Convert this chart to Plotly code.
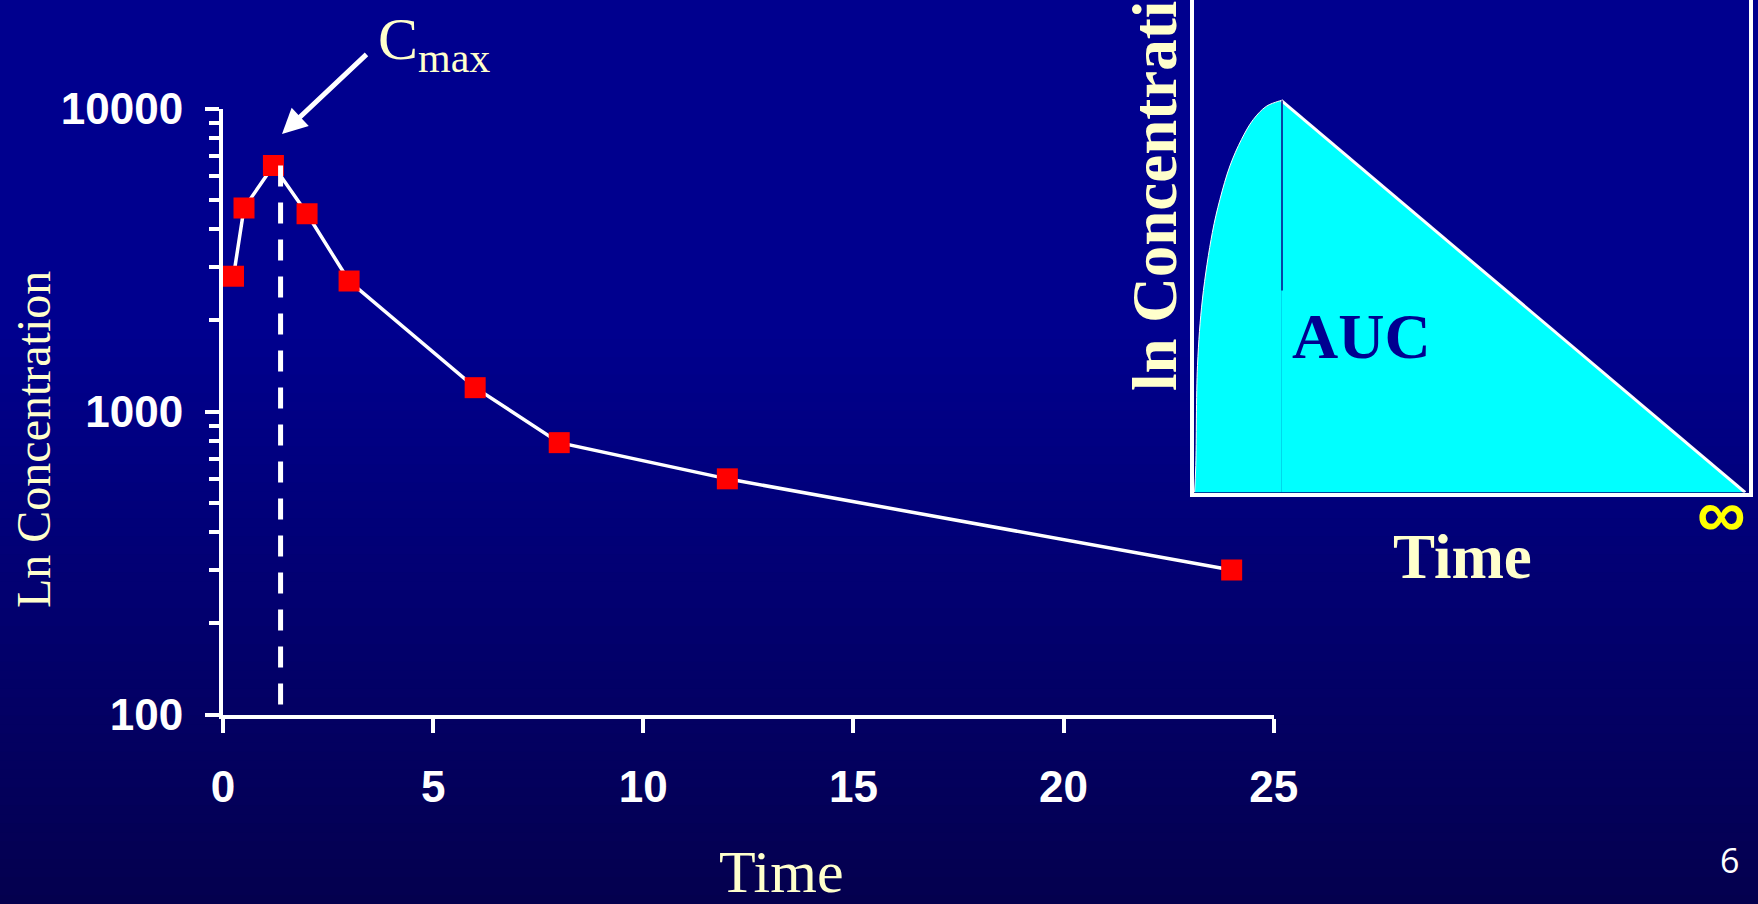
import plotly.graph_objects as go

W, H = 1758, 904

# ---------------- Main chart data ----------------
time_h = [0.25, 0.5, 1.2, 2, 3, 6, 8, 12, 24]
conc = [2800, 4700, 6500, 4500, 2700, 1200, 790, 600, 300]

# dashed Cmax marker line (time of Cmax)
tmax_line_x = [1.37, 1.37]
tmax_line_y = [108, 6500]

x_tick_vals = [0, 5, 10, 15, 20, 25]
x_tick_text = ["0", "5", "10", "15", "20", "25"]
y_tick_vals = [100, 1000, 10000]
y_tick_text = ["100", "1000", "10000"]
y_minor_vals = [m * 10 ** e for e in (2, 3) for m in range(2, 10)]

# ---------------- Inset (schematic AUC) data ----------------
inset_rise_t = [0.2, 0.41, 0.72, 1.61, 3.4, 4.76, 6.56, 8.65, 10.75, 13.1, 15.2, 15.8]
inset_rise_c = [0, 5.5, 25.8, 39.3, 52.8, 59.5, 66.3, 71.7, 75.7, 78.4, 79.4, 79.6]
inset_fall_t = [15.8, 99.4]
inset_fall_c = [79.6, 0]
inset_peak_mark_t = [15.95, 15.95]
inset_peak_mark_c = [79.6, 41]

TXT_YELLOW = "#FFFFCC"
SERIF = "Times New Roman, Liberation Serif, serif"
SANS = "Arial, Liberation Sans, sans-serif"


def px(x):
    return x / W


def py(y):
    return 1 - y / H


fig = go.Figure()

# main data
fig.add_trace(go.Scatter(
    x=time_h, y=conc, mode="lines+markers",
    line=dict(color="white", width=3.5),
    marker=dict(symbol="square", size=21, color="#FF0000", line=dict(width=0)),
    xaxis="x", yaxis="y", hoverinfo="x+y",
))
fig.add_trace(go.Scatter(
    x=tmax_line_x, y=tmax_line_y, mode="lines",
    line=dict(color="white", width=5, dash="21px,16px"),
    xaxis="x", yaxis="y", hoverinfo="skip",
))

# inset
fig.add_trace(go.Scatter(
    x=inset_rise_t, y=inset_rise_c, mode="lines", fill="tozeroy",
    fillcolor="#00FFFF", line=dict(color="white", width=1, shape="spline"),
    xaxis="x2", yaxis="y2", hoverinfo="skip",
))
fig.add_trace(go.Scatter(
    x=inset_fall_t, y=inset_fall_c, mode="lines", fill="tozeroy",
    fillcolor="#00FFFF", line=dict(color="white", width=3),
    xaxis="x2", yaxis="y2", hoverinfo="skip",
))
fig.add_trace(go.Scatter(
    x=inset_peak_mark_t, y=inset_peak_mark_c, mode="lines",
    line=dict(color="#0A0A8A", width=1.5),
    xaxis="x2", yaxis="y2", hoverinfo="skip",
))

# background gradient (bands)
shapes = []
top_rgb = (0, 0, 142)
bot_rgb = (4, 0, 78)
g_start, g_end = 330, H
n = 64
for i in range(n):
    y0 = g_start + (g_end - g_start) * i / n
    y1 = g_start + (g_end - g_start) * (i + 1) / n + 1
    f = (i + 0.5) / n
    c = tuple(round(top_rgb[k] + (bot_rgb[k] - top_rgb[k]) * f) for k in range(3))
    shapes.append(dict(type="rect", xref="paper", yref="paper",
                       x0=0, x1=1, y0=py(min(y1, H)), y1=py(y0),
                       fillcolor="rgb(%d,%d,%d)" % c, line=dict(width=0),
                       layer="below"))

axis_common = dict(showgrid=False, zeroline=False, showline=True, automargin=False,
                   linecolor="white", linewidth=4,
                   ticks="outside", tickcolor="white", tickwidth=4, ticklen=14,
                   tickfont=dict(family=SANS, size=44, color="white", weight="bold"))

annotations = [
    # Cmax label + arrow
    dict(xref="paper", yref="paper", x=px(376), y=py(44), xanchor="left", yanchor="middle",
         text="C<sub>max</sub>", showarrow=False,
         font=dict(family=SERIF, size=60, color=TXT_YELLOW)),
    dict(xref="paper", yref="paper", x=px(282), y=py(134), text="",
         showarrow=True, axref="pixel", ayref="pixel", ax=86, ay=-81,
         arrowcolor="white", arrowwidth=5, arrowhead=2, arrowsize=1, standoff=0),
    # main axis titles
    dict(xref="paper", yref="paper", x=px(781), y=py(872), xanchor="center", yanchor="middle",
         text="Time", showarrow=False, font=dict(family=SERIF, size=60, color=TXT_YELLOW)),
    dict(xref="paper", yref="paper", x=px(33), y=py(440), xanchor="center", yanchor="middle",
         text="Ln Concentration", textangle=-90, showarrow=False,
         font=dict(family=SERIF, size=48, color=TXT_YELLOW)),
    # inset texts
    dict(xref="paper", yref="paper", x=px(1361), y=py(336), xanchor="center", yanchor="middle",
         text="<b>AUC</b>", showarrow=False, font=dict(family=SERIF, size=64, color="#000090")),
    dict(xref="paper", yref="paper", x=px(1462), y=py(557), xanchor="center", yanchor="middle",
         text="<b>Time</b>", showarrow=False, font=dict(family=SERIF, size=63, color=TXT_YELLOW)),
    dict(xref="paper", yref="paper", x=px(1721), y=py(513), xanchor="center", yanchor="middle",
         text="<b>∞</b>", showarrow=False, font=dict(family=SANS, size=68, color="#FFFF00")),
    dict(xref="paper", yref="paper", x=px(1155), y=py(163), xanchor="center", yanchor="middle",
         text="<b>ln Concentration</b>", textangle=-90, showarrow=False,
         font=dict(family=SERIF, size=63, color=TXT_YELLOW)),
    # page number
    dict(xref="paper", yref="paper", x=px(1729), y=py(860), xanchor="center", yanchor="middle",
         text="6", showarrow=False, font=dict(family="Open Sans, Noto Sans, sans-serif", size=34, color="white")),
]

fig.update_layout(
    width=W, height=H, autosize=False,
    margin=dict(l=0, r=0, t=0, b=0, pad=0, autoexpand=False),
    paper_bgcolor="rgb(0,0,142)", plot_bgcolor="rgba(0,0,0,0)",
    showlegend=False,
    shapes=shapes,
    annotations=annotations,
    xaxis=dict(domain=[px(223), px(1273.7)], range=[0, 25],
               tickvals=x_tick_vals, ticktext=x_tick_text,
               ticklabelstandoff=17, anchor="y", **axis_common),
    yaxis=dict(domain=[py(714.5), py(108.8)], type="log", range=[2, 4],
               tickvals=y_tick_vals, ticktext=y_tick_text,
               ticklabelstandoff=13, anchor="x",
               minor=dict(tickvals=y_minor_vals, ticks="outside", ticklen=10,
                          tickwidth=4, tickcolor="white", showgrid=False),
               **axis_common),
    xaxis2=dict(domain=[px(1193.5), px(1748.5)], range=[0, 100], anchor="y2", automargin=False,
                showgrid=False, zeroline=False, showline=True, linecolor="white",
                linewidth=3.5, showticklabels=False, ticks=""),
    yaxis2=dict(domain=[py(492.5), 1], range=[0, 100], anchor="x2", automargin=False,
                showgrid=False, zeroline=False, showline=True, mirror=True,
                linecolor="white", linewidth=3.5, showticklabels=False, ticks=""),
)

fig.write_html("out.html", config={"displayModeBar": False},
               post_script="document.body.style.margin='0';document.body.style.overflow='hidden';document.body.style.background='rgb(4,0,78)';")
